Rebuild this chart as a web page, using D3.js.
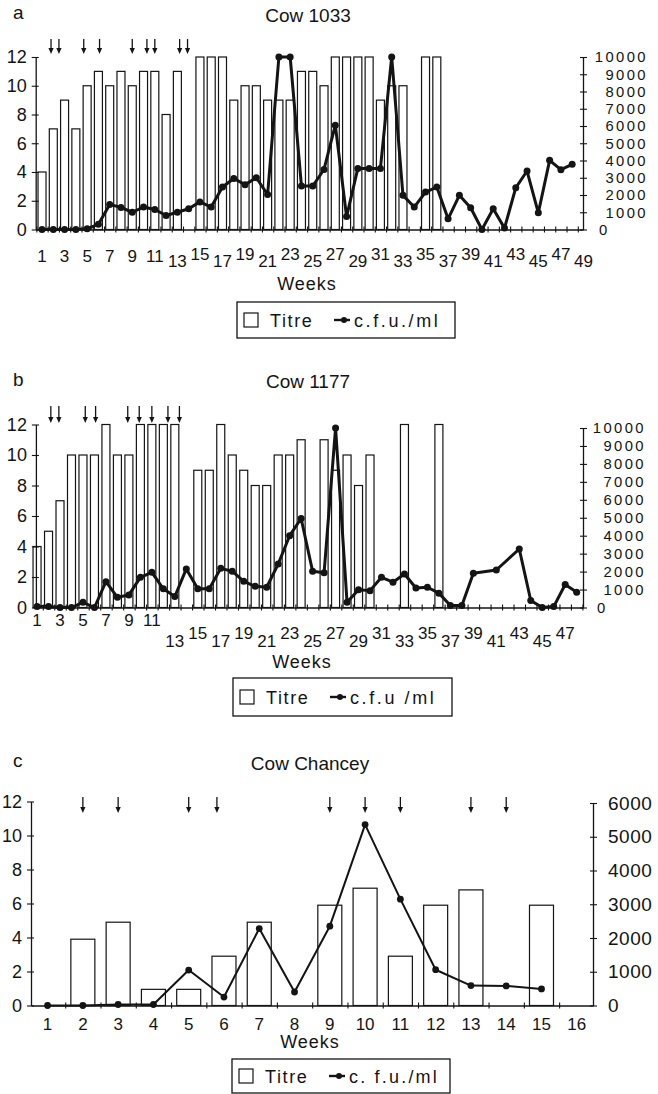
<!DOCTYPE html>
<html>
<head>
<meta charset="utf-8">
<script src="https://cdn.jsdelivr.net/npm/d3@7"></script>
<style>
  html, body { margin: 0; padding: 0; background: #fff; }
  svg { display: block; font-family: "Liberation Sans", Arial, sans-serif; }
</style>
</head>
<body>
<svg id="fig" width="658" height="1094"></svg>
<script>
// ---- Cow 1033: weekly antibody titre (left axis) and c.f.u./ml (right axis) ----
// index 0 = week 1; null = no sample that week
const titre1033 = [4, 7, 9, 7, 10, 11, 10, 11, 10, 11, 11, 8, 11, null, 12, 12, 12, 9, 10, 10,
                   9, 9, 9, 11, 11, 10, 12, 12, 12, 12, 9, 10, 10, null, 12, 12];
const cfu1033 = [0, 0, 0, 0, 50, 300, 1450, 1280, 1000, 1300, 1160, 810, 1000, 1200, 1600, 1300,
                 2460, 2960, 2600, 3000, 2030, 10000, 10000, 2520, 2520, 3480, 6050, 750, 3540,
                 3540, 3540, 10000, 1980, 1300, 2170, 2460, 620, 1980, 1260, 0, 1200, 80, 2420,
                 3390, 970, 4010, 3470, 3780];
const doses1033 = [1.8, 2.5, 4.7, 6.1, 9.0, 10.3, 11.0, 13.2, 13.9];
const weekLabels1033 = [1, 3, 5, 7, 9, 11, 13, 15, 17, 19, 21, 23, 25, 27, 29, 31, 33, 35, 37,
                        39, 41, 43, 45, 47, 49];

// ---- Cow 1177 ----
const titre1177 = [4, 5, 7, 10, 10, 10, 12, 10, 10, 12, 12, 12, 12, null, 9, 9, 12, 10, 9, 8,
                   8, 10, 10, 11, null, 11, 9, 10, 8, 10, null, null, 12, null, null, 12];
const cfu1177 = [60, 50, 0, 0, 290, 0, 1440, 570, 700, 1680, 1960, 1040, 610, 2150, 1040, 1040,
                 2180, 2020, 1460, 1180, 1130, 2420, 4000, 4960, 2020, 1930, 10000, 290, 990, 940,
                 1680, 1410, 1870, 1090, 1130, 800, 110, 110, 1910, null, 2090, null, 3260, 390,
                 0, 50, 1280, 850];
const doses1177 = [2.2, 2.9, 5.2, 6.1, 8.9, 9.9, 11.0, 12.4, 13.4];
const weekLabels1177 = [1, 3, 5, 7, 9, 11, 13, 15, 17, 19, 21, 23, 25, 27, 29, 31, 33, 35, 37,
                        39, 41, 43, 45, 47];

// ---- Cow Chancey ----
const titreChancey = [null, 3.9, 4.9, 0.95, 0.95, 2.9, 4.9, null, 5.9, 6.9, 2.9, 5.9, 6.8, null, 5.9];
const cfuChancey = [0, 0, 30, 30, 1050, 250, 2280, 400, 2350, 5360, 3150, 1060, 590, 580, 490];
const dosesChancey = [2, 3, 5, 5.8, 9, 10, 11, 13, 14];
const weekLabelsChancey = [1, 2, 3, 4, 5, 6, 7, 8, 9, 10, 11, 12, 13, 14, 15, 16];

const titreTicks = [0, 2, 4, 6, 8, 10, 12];
const cfuTicks10k = [0, 1000, 2000, 3000, 4000, 5000, 6000, 7000, 8000, 9000, 10000];
const cfuTicks6k = [0, 1000, 2000, 3000, 4000, 5000, 6000];

const INK = "#141414";
const svg = d3.select("#fig");

function drawPanel(o) {
  const g = svg.append("g");
  const x = d3.scaleLinear().domain(o.xDomain).range([o.left, o.right]);
  const yL = d3.scaleLinear().domain([0, 12]).range([o.base, o.topL]);
  const yR = d3.scaleLinear().domain([0, o.cfuMax]).range([o.base, o.topR]);

  // letter + title
  g.append("text").attr("x", o.letterX).attr("y", o.letterY)
    .attr("font-size", 19).attr("fill", INK).text(o.letter);
  g.append("text").attr("x", o.titleX).attr("y", o.titleY)
    .attr("text-anchor", "middle").attr("font-size", 19).attr("fill", INK).text(o.title);

  // titre bars
  const bars = o.titre.map((v, i) => ({ week: i + 1, v })).filter(d => d.v != null);
  g.append("g").selectAll("rect").data(bars).join("rect")
    .attr("x", d => x(d.week) - o.barW / 2)
    .attr("y", d => yL(d.v))
    .attr("width", o.barW)
    .attr("height", d => yL(0) - yL(d.v))
    .attr("fill", "#fff").attr("stroke", INK).attr("stroke-width", 1.2);

  // week axis with ticks between weeks
  const bounds = d3.range(Math.ceil(o.xDomain[0] - 0.5) + 0.5, o.xDomain[1], 1);
  const gx = g.append("g").attr("transform", `translate(0,${o.base})`)
    .call(d3.axisBottom(x).tickValues(bounds).tickFormat("").tickSizeOuter(0));
  gx.select(".domain").attr("stroke", INK).attr("stroke-width", 1.3);
  gx.selectAll(".tick line").attr("y1", -3).attr("y2", 3).attr("stroke", INK).attr("stroke-width", 1.1);

  g.append("g").selectAll("text").data(o.weekLabels).join("text")
    .attr("x", d => x(d)).attr("y", d => o.labelY(d))
    .attr("text-anchor", "middle").attr("font-size", 17).attr("fill", INK).text(d => d);

  g.append("text").attr("x", o.weeksX).attr("y", o.weeksY).attr("text-anchor", "middle")
    .attr("font-size", 18).attr("letter-spacing", 1).attr("fill", INK).text("Weeks");

  // left axis: titre
  const gl = g.append("g").attr("transform", `translate(${o.left},0)`)
    .call(d3.axisLeft(yL).tickValues(titreTicks).tickSizeOuter(0));
  gl.attr("font-size", null).attr("font-family", null);
  gl.select(".domain").attr("stroke", INK).attr("stroke-width", 1.3);
  gl.selectAll(".tick line").attr("x1", 3).attr("x2", -4).attr("stroke", INK).attr("stroke-width", 1.1);
  gl.selectAll(".tick text").attr("x", -o.leftGap).attr("font-size", 18).attr("fill", INK);

  // right axis: c.f.u./ml
  const gr = g.append("g").attr("transform", `translate(${o.right},0)`)
    .call(d3.axisRight(yR).tickValues(o.cfuTicks).tickFormat(d3.format("d")).tickSizeOuter(0));
  gr.attr("font-size", null).attr("font-family", null);
  gr.select(".domain").attr("stroke", INK).attr("stroke-width", 1.3);
  gr.selectAll(".tick line").attr("x1", -3).attr("x2", 4).attr("stroke", INK).attr("stroke-width", 1.1);
  gr.selectAll(".tick text")
    .attr("font-size", o.rightFont).attr("letter-spacing", o.rightSpacing).attr("fill", INK)
    .attr("text-anchor", d => (o.rightEnd && d !== 0) ? "end" : "start")
    .attr("x", d => (o.rightEnd && d !== 0) ? o.rightEnd - o.right : o.rightGap);

  // c.f.u. line with dots
  const pts = o.cfu.map((v, i) => ({ week: i + 1, v })).filter(d => d.v != null);
  g.append("path").datum(pts)
    .attr("d", d3.line().x(d => x(d.week)).y(d => yR(d.v)))
    .attr("fill", "none").attr("stroke", INK).attr("stroke-width", o.lineW)
    .attr("stroke-linejoin", "round");
  g.append("g").selectAll("circle").data(pts).join("circle")
    .attr("cx", d => x(d.week)).attr("cy", d => yR(d.v)).attr("r", o.dotR).attr("fill", INK);

  // dosing arrows
  const ag = g.append("g");
  o.doses.forEach(w => {
    const ax = x(w);
    ag.append("line").attr("x1", ax).attr("x2", ax)
      .attr("y1", o.arrowTop).attr("y2", o.arrowBot - 4)
      .attr("stroke", INK).attr("stroke-width", 1.3);
    ag.append("path")
      .attr("d", `M${ax - 2.6},${o.arrowBot - 6}L${ax + 2.6},${o.arrowBot - 6}L${ax},${o.arrowBot}Z`)
      .attr("fill", INK);
  });

  // legend
  const L = o.legend;
  const cy = L.y + L.h / 2;
  const lg = g.append("g");
  lg.append("rect").attr("x", L.x).attr("y", L.y).attr("width", L.w).attr("height", L.h)
    .attr("fill", "none").attr("stroke", INK).attr("stroke-width", 1.3);
  lg.append("rect").attr("x", L.x + 7).attr("y", cy - 7).attr("width", 14).attr("height", 14)
    .attr("fill", "none").attr("stroke", INK).attr("stroke-width", 1.2);
  lg.append("text").attr("x", L.x + 33).attr("y", cy + 6.5).attr("font-size", 18)
    .attr("letter-spacing", 1.6).attr("fill", INK).text("Titre");
  lg.append("line").attr("x1", L.x + 97).attr("x2", L.x + 113).attr("y1", cy).attr("y2", cy)
    .attr("stroke", INK).attr("stroke-width", 2.4);
  lg.append("circle").attr("cx", L.x + 107).attr("cy", cy).attr("r", 3).attr("fill", INK);
  lg.append("text").attr("x", L.x + 117).attr("y", cy + 6.5).attr("font-size", 18)
    .attr("letter-spacing", L.spacing).attr("fill", INK).text(L.label);
}

const stagger = (base, low, high) => w =>
  w <= 11 ? base : (((w - 13) / 2) % 2 === 0 ? low : high);

drawPanel({
  letter: "a", letterX: 13, letterY: 19, title: "Cow 1033", titleX: 308, titleY: 22,
  titre: titre1033, cfu: cfu1033, doses: doses1033, weekLabels: weekLabels1033,
  xDomain: [0.44, 48.96], left: 35.7, right: 583,
  base: 229.5, topL: 57, topR: 57, cfuMax: 10000, cfuTicks: cfuTicks10k,
  barW: 8, lineW: 3, dotR: 3.5,
  arrowTop: 39, arrowBot: 54,
  labelY: stagger(262, 267, 260),
  weeksX: 307, weeksY: 290,
  leftGap: 9, rightFont: 14.8, rightSpacing: 2.4, rightEnd: 648, rightGap: 16,
  legend: { x: 237, y: 302, w: 218, h: 36, label: "c.f.u./ml", spacing: 2.6 }
});

drawPanel({
  letter: "b", letterX: 13, letterY: 386, title: "Cow 1177", titleX: 308, titleY: 388,
  titre: titre1177, cfu: cfu1177, doses: doses1177, weekLabels: weekLabels1177,
  xDomain: [0.9, 48.55], left: 35.9, right: 583,
  base: 607.5, topL: 424.5, topR: 428, cfuMax: 10000, cfuTicks: cfuTicks10k,
  barW: 8, lineW: 3, dotR: 3.5,
  arrowTop: 406, arrowBot: 423,
  labelY: stagger(626, 647, 639),
  weeksX: 302, weeksY: 668,
  leftGap: 9, rightFont: 14.8, rightSpacing: 2.4, rightEnd: 646, rightGap: 14,
  legend: { x: 233, y: 678, w: 219, h: 38, label: "c.f.u /ml", spacing: 2.6 }
});

drawPanel({
  letter: "c", letterX: 13, letterY: 767, title: "Cow Chancey", titleX: 310, titleY: 770,
  titre: titreChancey, cfu: cfuChancey, doses: dosesChancey, weekLabels: weekLabelsChancey,
  xDomain: [0.53, 16.46], left: 31, right: 593,
  base: 1005.5, topL: 801.5, topR: 803, cfuMax: 6000, cfuTicks: cfuTicks6k,
  barW: 24, lineW: 2, dotR: 3.4,
  arrowTop: 797, arrowBot: 813,
  labelY: () => 1030,
  weeksX: 310, weeksY: 1048,
  leftGap: 9, rightFont: 19, rightSpacing: 0.5, rightEnd: null, rightGap: 15,
  legend: { x: 232, y: 1059, w: 218, h: 34, label: "c. f.u./ml", spacing: 2.2 }
});
</script>
</body>
</html>
